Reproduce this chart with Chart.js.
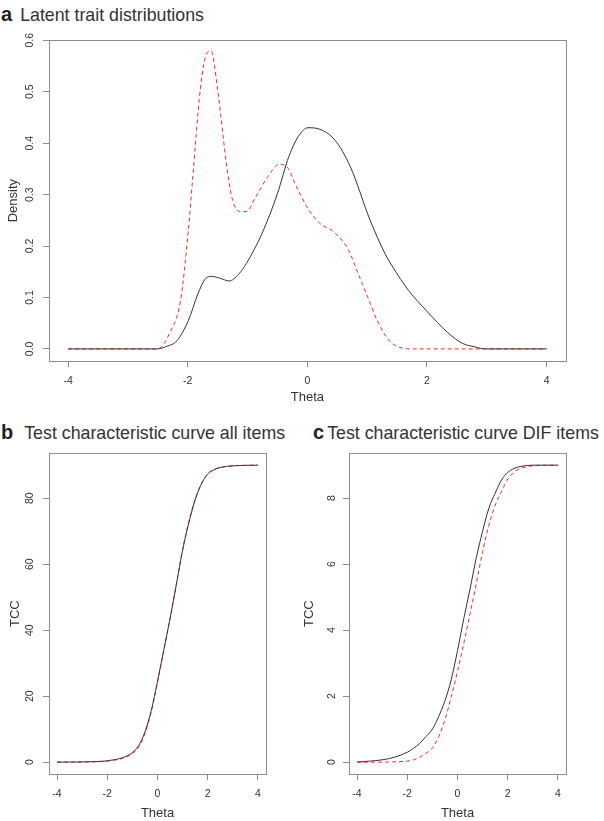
<!DOCTYPE html>
<html>
<head>
<meta charset="utf-8">
<script src="https://cdn.jsdelivr.net/npm/chart.js@4.4.1/dist/chart.umd.min.js"></script>
<style>
  body { margin: 0; background: #fff; width: 604px; height: 821px; position: relative; overflow: hidden; }
  .panel { position: absolute; }
  .title { position: absolute; white-space: nowrap; font-family: "Liberation Sans", Arial, sans-serif; font-size: 17.8px; color: #333; line-height: 20px; }
  .title b { font-size: 20px; color: #222; }
</style>
</head>
<body>
<div class="title" style="left:1px; top:4px;"><b>a</b><span style="margin-left:8px;">Latent trait distributions</span></div>
<div class="title" style="left:1px; top:422px;"><b>b</b><span style="margin-left:11px;">Test characteristic curve all items</span></div>
<div class="title" style="left:313px; top:422px;"><b>c</b><span style="margin-left:3px;">Test characteristic curve DIF items</span></div>

<div class="panel" style="left:0; top:28px;"><canvas id="chartA" width="604" height="377"></canvas></div>
<div class="panel" style="left:0; top:445px;"><canvas id="chartB" width="302" height="376"></canvas></div>
<div class="panel" style="left:302px; top:445px;"><canvas id="chartC" width="302" height="376"></canvas></div>

<script>
// panel a: density of theta, reference (black) and focal (red) group
const thetaRef = [-4, -2.52, -2.35, -2.18, -1.99, -1.83, -1.7, -1.6, -1.45, -1.31, -1.15, -1.02, -0.76, -0.5, -0.31, -0.15, 0.01, 0.21, 0.46, 0.72, 1.05, 1.3, 1.43, 1.69, 2.01, 2.34, 2.59, 2.8, 2.98, 4];
const densRef = [0, 0, 0.005, 0.016, 0.055, 0.107, 0.137, 0.141, 0.137, 0.132, 0.145, 0.166, 0.224, 0.302, 0.374, 0.413, 0.43, 0.427, 0.406, 0.354, 0.25, 0.185, 0.159, 0.114, 0.072, 0.0325, 0.011, 0.004, 0, 0];
const thetaFoc = [-4, -2.5, -2.4, -2.31, -2.12, -1.99, -1.92, -1.79, -1.68, -1.61, -1.5, -1.34, -1.25, -1.12, -1.02, -0.86, -0.66, -0.47, -0.34, -0.18, 0.01, 0.21, 0.4, 0.53, 0.69, 0.85, 1.01, 1.17, 1.37, 1.55, 1.7, 4];
const densFoc = [0, 0, 0.01, 0.029, 0.094, 0.231, 0.328, 0.504, 0.575, 0.579, 0.504, 0.348, 0.289, 0.267, 0.267, 0.296, 0.335, 0.359, 0.354, 0.315, 0.273, 0.244, 0.231, 0.218, 0.192, 0.146, 0.101, 0.055, 0.016, 0.003, 0, 0];

// panels b and c: test characteristic curves
const thetaTcc = [-4, -3.5, -3, -2.5, -2, -1.75, -1.5, -1.25, -1, -0.75, -0.5, -0.25, 0, 0.25, 0.5, 0.75, 1, 1.25, 1.5, 1.75, 2, 2.25, 2.5, 3, 3.5, 4];
const tccAllRef = [0, 0.02, 0.05, 0.15, 0.4, 0.7, 1.1, 1.8, 2.9, 5, 9.2, 15.6, 24.5, 34, 43.5, 53.8, 64.2, 72.6, 79.5, 84.3, 87.3, 88.6, 89.3, 89.8, 89.95, 90];
const tccAllFoc = [0, 0.01, 0.03, 0.1, 0.3, 0.55, 0.9, 1.5, 2.6, 4.5, 8.6, 15.2, 24.2, 33.8, 43.5, 54, 64.5, 73, 79.8, 84.5, 87.4, 88.7, 89.3, 89.8, 89.95, 90];
const tccDifRef = [0, 0.03, 0.07, 0.15, 0.3, 0.42, 0.57, 0.78, 1, 1.38, 1.86, 2.5, 3.38, 4.35, 5.25, 6.2, 7, 7.7, 8.15, 8.55, 8.78, 8.9, 8.96, 9, 9, 9];
const tccDifFoc = [0, 0, 0, 0.01, 0.03, 0.07, 0.15, 0.27, 0.43, 0.77, 1.28, 1.98, 2.75, 3.6, 4.5, 5.42, 6.38, 7.18, 7.78, 8.2, 8.58, 8.78, 8.9, 8.98, 9, 9];

const thetaTicks = [-4, -2, 0, 2, 4];
const densTicks = [0, 0.1, 0.2, 0.3, 0.4, 0.5, 0.6];
const tccAllTicks = [0, 20, 40, 60, 80];
const tccDifTicks = [0, 2, 4, 6, 8];

const FONT = "'Liberation Sans', Arial, sans-serif";
const AXIS_GREY = "#8c8c8c";

const toPoints = (xs, ys) => xs.map((x, i) => ({ x, y: ys[i] }));

// R style box around the plot region
const boxPlugin = {
  id: "box",
  afterDraw(chart) {
    const { ctx, chartArea } = chart;
    ctx.save();
    ctx.strokeStyle = AXIS_GREY;
    ctx.lineWidth = 1;
    ctx.strokeRect(Math.round(chartArea.left) + 0.5, Math.round(chartArea.top) + 0.5, Math.round(chartArea.width), Math.round(chartArea.height));
    ctx.restore();
  },
};

// fix axis size so the plot region sits where it should
const fixSize = (size) => (scale) => {
  if (scale.isHorizontal()) scale.height = size;
  else scale.width = size;
  scale.paddingTop = 0;
  scale.paddingBottom = 0;
  scale.paddingLeft = 0;
  scale.paddingRight = 0;
};

const lineSet = (points, red) => ({
  data: points,
  showLine: true,
  borderColor: red ? "#ff2a2a" : "#333333",
  borderWidth: 1,
  borderDash: red ? [4, 3] : [],
  pointRadius: 0,
  cubicInterpolationMode: "monotone",
  fill: false,
});

const drawPanel = (id, cfg) => {
  const ctx = document.getElementById(id).getContext("2d");
  new Chart(ctx, {
    type: "scatter",
    data: { datasets: cfg.datasets },
    options: {
      responsive: false,
      animation: false,
      devicePixelRatio: 1,
      layout: { padding: cfg.padding },
      plugins: { legend: { display: false }, tooltip: { enabled: false } },
      scales: {
        x: {
          type: "linear",
          min: -4.32,
          max: 4.32,
          afterBuildTicks: (scale) => { scale.ticks = thetaTicks.map((v) => ({ value: v })); },
          afterFit: fixSize(cfg.xHeight),
          grid: { drawOnChartArea: false, tickLength: 6, color: AXIS_GREY },
          border: { display: false },
          ticks: { color: "#333", padding: 8, font: { family: FONT, size: 10.5 }, callback: (v) => String(v) },
          title: { display: true, text: "Theta", color: "#333", padding: { top: 0, bottom: 0 }, font: { family: FONT, size: 13, lineHeight: 1.2 } },
        },
        y: {
          type: "linear",
          min: cfg.yMin,
          max: cfg.yMax,
          afterBuildTicks: (scale) => { scale.ticks = cfg.yTicks.map((v) => ({ value: v })); },
          afterFit: fixSize(cfg.yWidth),
          grid: { drawOnChartArea: false, tickLength: 6, color: AXIS_GREY },
          border: { display: false },
          ticks: {
            color: "#333",
            padding: cfg.yTickPad,
            minRotation: 90,
            maxRotation: 90,
            crossAlign: "center",
            font: { family: FONT, size: 10.5 },
            callback: cfg.yFormat,
          },
          title: { display: true, text: cfg.yTitle, color: "#333", padding: { top: cfg.yTitlePad, bottom: 0 }, font: { family: FONT, size: 13, lineHeight: 1.2 } },
        },
      },
    },
    plugins: [boxPlugin],
  });
};

drawPanel("chartA", {
  datasets: [lineSet(toPoints(thetaRef, densRef), false), lineSet(toPoints(thetaFoc, densFoc), true)],
  padding: { top: 12.3, right: 38.3, left: 0, bottom: 0 },
  xHeight: 44,
  yWidth: 49,
  yMin: -0.0235,
  yMax: 0.6,
  yTicks: densTicks,
  yFormat: (v) => v.toFixed(1),
  yTickPad: 5.7,
  yTitle: "Density",
  yTitlePad: 5.7,
});

drawPanel("chartB", {
  datasets: [lineSet(toPoints(thetaTcc, tccAllRef), false), lineSet(toPoints(thetaTcc, tccAllFoc), true)],
  padding: { top: 8.3, right: 36, left: 0, bottom: 0 },
  xHeight: 47,
  yWidth: 49,
  yMin: -3.6,
  yMax: 93.6,
  yTicks: tccAllTicks,
  yFormat: (v) => String(v),
  yTickPad: 7.2,
  yTitle: "TCC",
  yTitlePad: 7.2,
});

drawPanel("chartC", {
  datasets: [lineSet(toPoints(thetaTcc, tccDifRef), false), lineSet(toPoints(thetaTcc, tccDifFoc), true)],
  padding: { top: 8.3, right: 38, left: 0, bottom: 0 },
  xHeight: 47,
  yWidth: 47,
  yMin: -0.36,
  yMax: 9.36,
  yTicks: tccDifTicks,
  yFormat: (v) => String(v),
  yTickPad: 8.1,
  yTitle: "TCC",
  yTitlePad: 0,
});
</script>
</body>
</html>
